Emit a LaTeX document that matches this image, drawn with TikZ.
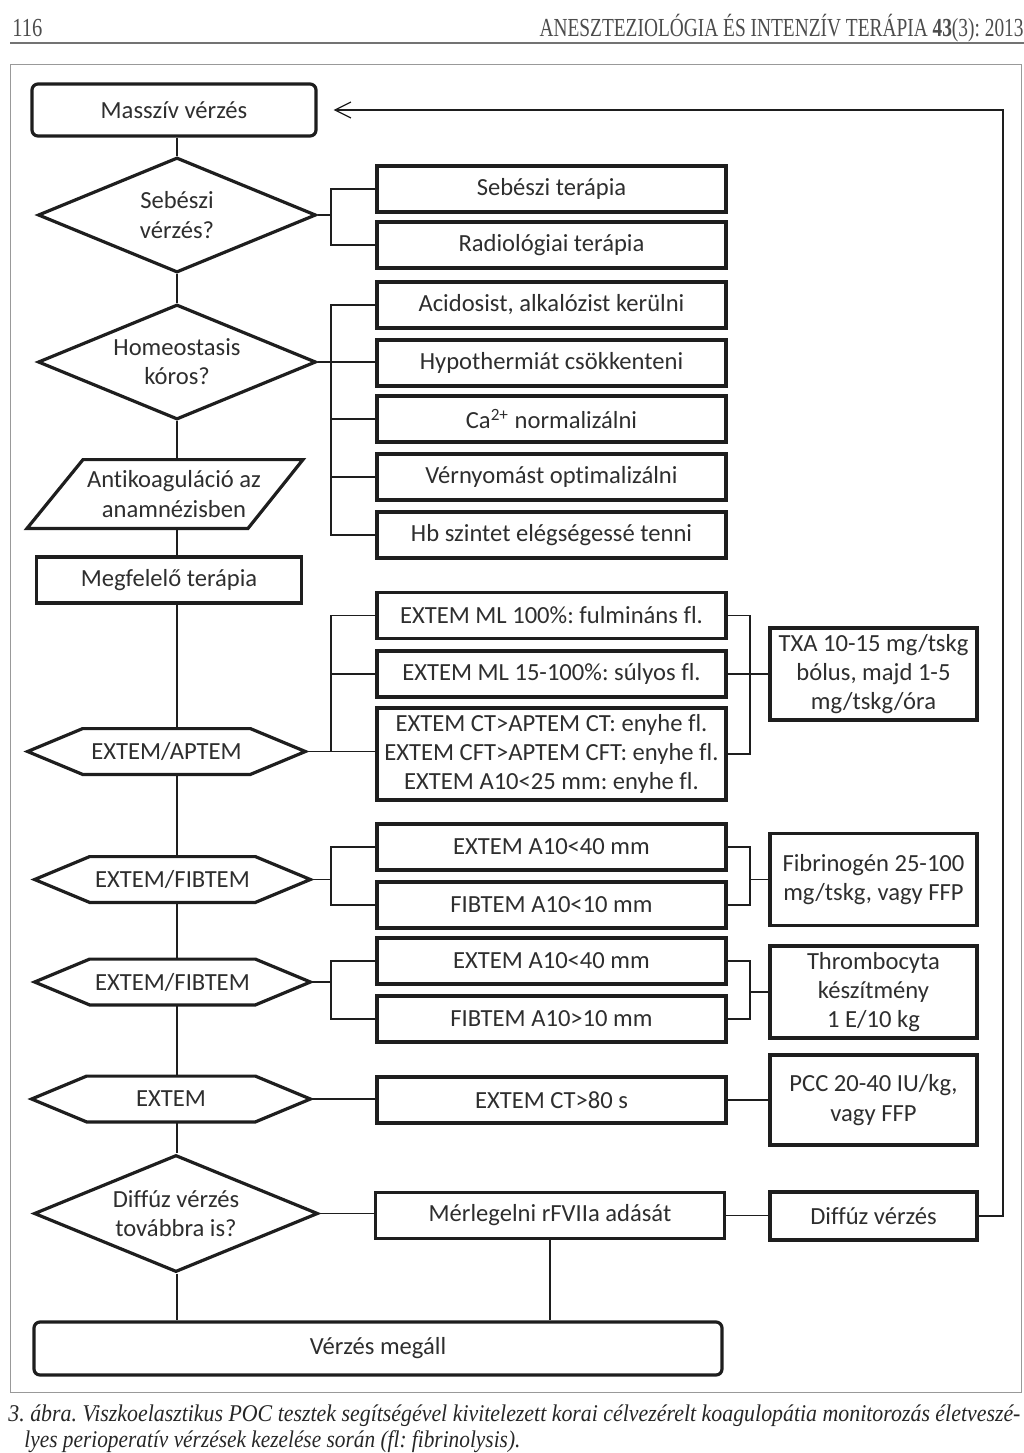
\documentclass[tikz,border=0pt]{standalone}
\usepackage{fontspec}
\setmainfont{Carlito}[Ligatures=NoCommon]
\newfontfamily\journalfont{Liberation Serif}
\usetikzlibrary{shapes.geometric,arrows.meta,positioning}
\definecolor{ink}{HTML}{1E1E1E}
\definecolor{txt}{HTML}{2E2E2E}
\frenchspacing
\newcommand{\hexframe}[1]{\draw[heavy] (#1.west) -- ([xshift=27.5pt]#1.north west) -- ([xshift=-27.5pt]#1.north east) -- (#1.east) -- ([xshift=-27.5pt]#1.south east) -- ([xshift=27.5pt]#1.south west) -- cycle;}
\begin{document}
\begin{tikzpicture}[x=0.5pt, y=-0.5pt, font=\fontsize{12.3}{14.6}\selectfont, text=txt,
  heavy/.style={draw=ink, line width=1.6pt},
  block/.style={heavy, minimum width=174.5pt, minimum height=23pt, inner sep=0pt, align=center},
  dose/.style={block, minimum width=103.5pt, minimum height=46pt},
  endbox/.style={block, rounded corners=3pt},
  decision/.style={diamond, heavy, inner sep=0pt, aspect=2.4, minimum width=139pt, minimum height=57.5pt, align=center},
  hexbox/.style={minimum height=22.5pt, inner sep=0pt},
  link/.style={draw=ink, line width=0.6pt},
  journal/.style={inner sep=0pt, text=black!70, font=\journalfont\fontsize{13}{14}\selectfont}]

  \useasboundingbox (0,0) rectangle (1024,1453);

  % Page header and frame
  \node[journal, anchor=base west] (pageno) at (12,36) {\resizebox{15pt}{\height}{116}};
  \node[journal, anchor=base east] (journal) at (1024,36) {\resizebox{242pt}{\height}{ANESZTEZIOLÓGIA ÉS INTENZÍV TERÁPIA \textbf{43}(3): 2013}};
  \draw[black!55, line width=1pt] (10,43) -- (1024,43);
  \draw[black!40, line width=0.5pt] (10,64) rectangle (1021,1392);

  \coordinate (spine) at (177,0);
  \coordinate (lbr) at (331,0);
  \coordinate (rbr) at (750,0);
  \coordinate (back) at (1003,0);

  % Main column
  \node[endbox, minimum width=142pt, minimum height=26pt] (mass) at (174,110) {Masszív vérzés};
  \node[decision] (seb) at (177,215) {Sebészi\\vérzés?};
  \node[decision] (hom) at (177,362) {Homeostasis\\kóros?};
  \node[inner sep=0pt, minimum width=120pt, minimum height=34pt, align=center] (anti) at (174,494) {Antikoaguláció az\\anamnézisben};
  \node[block, minimum width=132.5pt] (megf) at (169,580) {Megfelelő terápia};
  \node[hexbox, minimum width=138.5pt] (ea) at (166.5,751.5) {EXTEM/APTEM};
  \node[hexbox, minimum width=137.5pt] (ef1) at (172.5,879.5) {EXTEM/FIBTEM};
  \node[hexbox, minimum width=137.5pt] (ef2) at (172.5,982) {EXTEM/FIBTEM};
  \node[hexbox, minimum width=139pt] (ex) at (171,1099) {EXTEM};
  \node[decision, minimum width=142pt, minimum height=58.5pt] (dif) at (176,1213.5) {Diffúz vérzés\\továbbra is?};
  \node[endbox, minimum width=344pt, minimum height=26.5pt] (stop) at (378,1348.5) {Vérzés megáll};

  \draw[heavy] ([xshift=-45.5pt]anti.north) -- ([xshift=64.5pt]anti.north) -- ([xshift=37pt]anti.south) -- ([xshift=-73.5pt]anti.south) -- cycle;
  \hexframe{ea}
  \hexframe{ef1}
  \hexframe{ef2}
  \hexframe{ex}

  % Middle column
  \node[block] (b1) at (551.5,189) {Sebészi terápia};
  \node[block] (b2) at (551.5,245) {Radiológiai terápia};
  \node[block] (b3) at (551.5,305) {Acidosist, alkalózist kerülni};
  \node[block] (b4) at (551.5,363) {Hypothermiát csökkenteni};
  \node[block] (b5) at (551.5,419) {Ca\textsuperscript{2+} normalizálni};
  \node[block] (b6) at (551.5,477) {Vérnyomást optimalizálni};
  \node[block] (b7) at (551.5,535) {Hb szintet elégségessé tenni};
  \node[block] (c1) at (551.5,615.5) {EXTEM ML 100\%: fulmináns fl.};
  \node[block] (c2) at (551.5,674) {EXTEM ML 15-100\%: súlyos fl.};
  \node[block, minimum height=46pt] (c3) at (551.5,754) {EXTEM CT>APTEM CT: enyhe fl.\\EXTEM CFT>APTEM CFT: enyhe fl.\\EXTEM A10<25 mm: enyhe fl.};
  \node[block] (d1) at (551.5,847) {EXTEM A10<40 mm};
  \node[block] (d2) at (551.5,905) {FIBTEM A10<10 mm};
  \node[block] (e1) at (551.5,961) {EXTEM A10<40 mm};
  \node[block] (e2) at (551.5,1019) {FIBTEM A10>10 mm};
  \node[block] (f1) at (551.5,1100) {EXTEM CT>80 s};
  \node[block] (g1) at (550,1215.5) {Mérlegelni rFVIIa adását};

  % Right column
  \node[dose] (txa) at (873.5,674) {TXA 10-15 mg/tskg\\bólus, majd 1-5\\mg/tskg/óra};
  \node[dose] (fib) at (873.5,879.5) {Fibrinogén 25-100\\mg/tskg, vagy FFP};
  \node[dose] (thr) at (873.5,992) {Thrombocyta\\készítmény\\1 E/10 kg};
  \node[dose, minimum height=45pt] (pcc) at (873.5,1100) {PCC 20-40 IU/kg,\\vagy FFP};
  \node[dose, minimum height=24pt] (dv) at (873.5,1216) {Diffúz vérzés};

  % Spine
  \draw[link] (mass.south -| spine) -- (seb.north -| spine);
  \draw[link] (seb.south -| spine) -- (hom.north -| spine);
  \draw[link] (hom.south -| spine) -- (spine |- anti.north);
  \draw[link] (spine |- anti.south) -- (megf.north -| spine);
  \draw[link] (megf.south -| spine) -- (ea.north -| spine);
  \draw[link] (ea.south -| spine) -- (ef1.north -| spine);
  \draw[link] (ef1.south -| spine) -- (ef2.north -| spine);
  \draw[link] (ef2.south -| spine) -- (ex.north -| spine);
  \draw[link] (ex.south -| spine) -- (dif.north -| spine);
  \draw[link] (dif.south -| spine) -- (stop.north -| spine);
  \draw[link] (g1.south) -- (g1.south |- stop.north);

  % Brackets to the left column
  \draw[link] (seb.east) -- (seb.east -| lbr);
  \draw[link] (b1.west) -- (b1.west -| lbr) -- (b2.west -| lbr) -- (b2.west);
  \draw[link] (hom.east) -- (hom.east -| b4.west);
  \draw[link] (b3.west) -- (b3.west -| lbr) -- (b7.west -| lbr) -- (b7.west);
  \draw[link] (b5.west -| lbr) -- (b5.west);
  \draw[link] (b6.west -| lbr) -- (b6.west);
  \draw[link] (ea.east) -- (ea.east -| c3.west);
  \draw[link] (c1.west) -- (c1.west -| lbr) -- (ea.east -| lbr);
  \draw[link] (c2.west -| lbr) -- (c2.west);
  \draw[link] (ef1.east) -- (ef1.east -| lbr);
  \draw[link] (d1.west) -- (d1.west -| lbr) -- (d2.west -| lbr) -- (d2.west);
  \draw[link] (ef2.east) -- (ef2.east -| lbr);
  \draw[link] (e1.west) -- (e1.west -| lbr) -- (e2.west -| lbr) -- (e2.west);
  \draw[link] (ex.east) -- (ex.east -| f1.west);
  \draw[link] (dif.east) -- (dif.east -| g1.west);

  % Brackets to the right column
  \draw[link] (c1.east) -- (c1.east -| rbr) -- (c3.east -| rbr) -- (c3.east);
  \draw[link] (c2.east) -- (txa.west);
  \draw[link] (d1.east) -- (d1.east -| rbr) -- (d2.east -| rbr) -- (d2.east);
  \draw[link] (fib.west) -- (fib.west -| rbr);
  \draw[link] (e1.east) -- (e1.east -| rbr) -- (e2.east -| rbr) -- (e2.east);
  \draw[link] (thr.west) -- (thr.west -| rbr);
  \draw[link] (f1.east) -- (f1.east -| pcc.west);
  \draw[link] (g1.east) -- (g1.east -| dv.west);

  % Return arrow
  \draw[link, -{Straight Barb[length=8pt, width=8pt]}, shorten >=8pt] (dv.east) -- (back |- dv.east) -- (back |- mass.east) -- (mass.east);

  % Caption
  \node[journal, text=black!85, anchor=base west, font=\journalfont\itshape\fontsize{12}{13}\selectfont] (cap1) at (8,1421) {\resizebox{506pt}{\height}{3. ábra. Viszkoelasztikus POC tesztek segítségével kivitelezett korai célvezérelt koagulopátia monitorozás életveszé-}};
  \node[journal, text=black!85, anchor=base west, font=\journalfont\itshape\fontsize{12}{13}\selectfont] (cap2) at (24,1447) {\resizebox{248pt}{\height}{lyes perioperatív vérzések kezelése során (fl: fibrinolysis).}};

\end{tikzpicture}
\end{document}
